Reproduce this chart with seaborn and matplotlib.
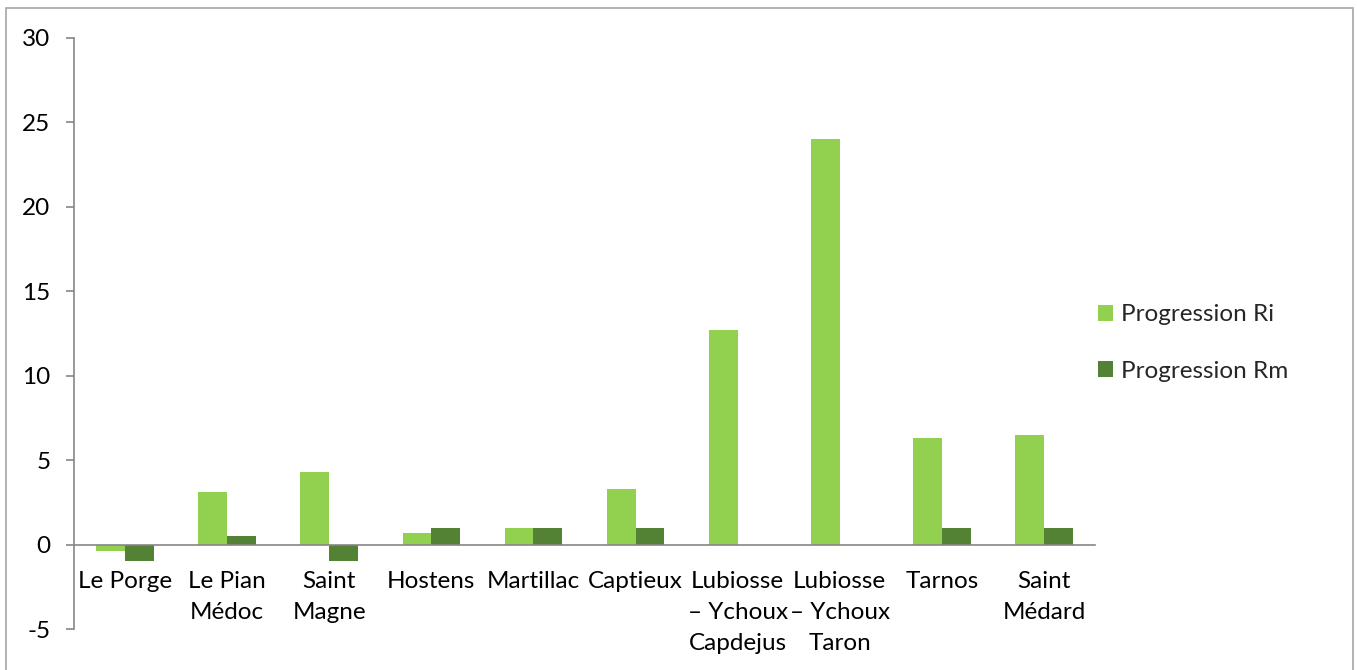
import matplotlib
matplotlib.use("Agg")
import matplotlib.pyplot as plt
from matplotlib.patches import Rectangle, Patch
import seaborn as sns
import pandas as pd

communes = ["Le Porge", "Le Pian\nMédoc", "Saint\nMagne", "Hostens", "Martillac",
            "Captieux", "Lubiosse\n– Ychoux\nCapdejus", "Lubiosse\n– Ychoux\nTaron",
            "Tarnos", "Saint\nMédard"]
progression_ri = [-0.4, 3.1, 4.3, 0.7, 1.0, 3.3, 12.7, 24.0, 6.3, 6.5]
progression_rm = [-1.0, 0.5, -1.0, 1.0, 1.0, 1.0, 0.0, 0.0, 1.0, 1.0]
series = ["Progression Ri", "Progression Rm"]
yticks = [-5, 0, 5, 10, 15, 20, 25, 30]

colors = ["#92D050", "#548235"]
axis_grey = "#868686"
fs = 17.5

df = pd.DataFrame({
    "commune": communes * 2,
    "serie": [series[0]] * len(communes) + [series[1]] * len(communes),
    "valeur": progression_ri + progression_rm,
})

sns.set_theme(style="white")
plt.rcParams["font.family"] = ["Lato", "DejaVu Sans"]

W, H = 1357, 670
fig = plt.figure(figsize=(W / 100, H / 100), dpi=100)
ax = fig.add_axes([74 / W, 1 - 629 / H, (1095 - 74) / W, (629 - 38) / H])

sns.barplot(data=df, x="commune", y="valeur", hue="serie", palette=colors,
            width=0.565, ax=ax, legend=False, saturation=1, errorbar=None,
            linewidth=0)

ax.set_ylim(-5, 30)
ax.set_xlim(-0.5, len(communes) - 0.5)
ax.set_yticks(yticks)
ax.set_yticklabels([str(v) for v in yticks], fontsize=fs, color="#000000")
ax.set_xlabel("")
ax.set_ylabel("")

for s in ["top", "right"]:
    ax.spines[s].set_visible(False)
ax.spines["bottom"].set_position(("data", 0))
for s in ["left", "bottom"]:
    ax.spines[s].set_color(axis_grey)
    ax.spines[s].set_linewidth(1.2)

ax.set_xticks(range(len(communes)))
ax.set_xticklabels(communes, fontsize=fs, color="#000000", linespacing=1.6,
                   va="top", ha="center")
ax.set_xticks([i - 0.5 for i in range(len(communes) + 1)], minor=True)
ax.tick_params(axis="x", which="major", length=0, pad=19)
ax.tick_params(axis="x", which="minor", length=6, width=1.2, color=axis_grey, direction="out")
ax.tick_params(axis="y", which="major", length=6, width=1.2, color=axis_grey,
               direction="out", left=True, pad=11)

handles = [Patch(facecolor=c, edgecolor="none", label=l) for c, l in zip(colors, series)]
fig.legend(handles=handles, loc="center left", bbox_to_anchor=(1086 / W, 1 - 343 / H),
           frameon=False, fontsize=fs, handlelength=0.62, handleheight=0.62,
           handletextpad=0.3, labelspacing=1.45, borderpad=0)

fig.add_artist(Rectangle((6 / W, -0.05), (1353 - 6) / W, 1.05 - 8 / H,
                         transform=fig.transFigure, fill=False,
                         edgecolor="#A6A6A6", linewidth=1.2))

fig.savefig("out.png", dpi=100, facecolor="white")
